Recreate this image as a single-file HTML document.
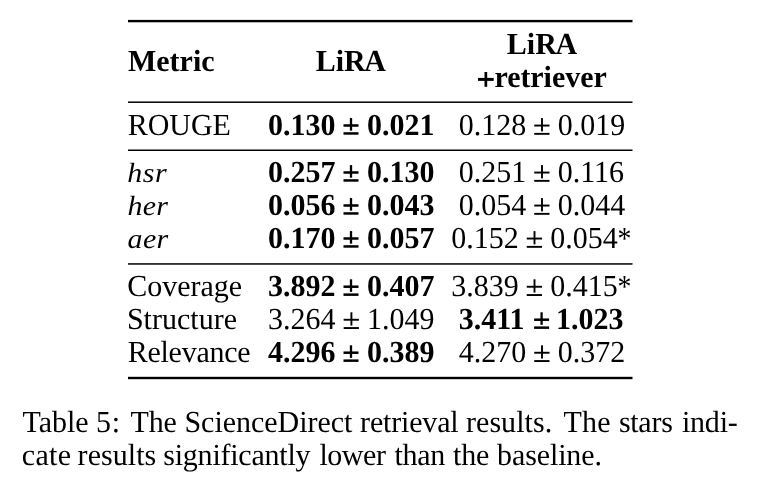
<!DOCTYPE html>
<html><head><meta charset="utf-8"><title>Table 5</title>
<style>
html,body{margin:0;padding:0;background:#fff;}
body{width:784px;height:502px;overflow:hidden;}
#page{position:absolute;left:0;top:0;width:784px;height:502px;background:#fff;overflow:hidden;will-change:transform;text-rendering:geometricPrecision;font-family:"Liberation Serif",serif;color:#000;font-size:30.00px;}
.t{position:absolute;white-space:pre;line-height:40px;height:40px;transform:scaleY(1.0180);transform-origin:0 29.125px;}
.b{font-weight:bold;}
.i{font-style:italic;transform:scaleY(0.925);}
.pm,.pmb{color:transparent;}
.st{display:inline-block;position:relative;top:0.5px;left:-0.3px;transform:scale(0.93,1.05);}
.plus{color:transparent;}
svg{position:absolute;left:0;top:0;}
</style></head><body><div id="page">
<svg width="784" height="502" viewBox="0 0 784 502">
<rect x="128.00" y="19.90" width="504.50" height="2.40" fill="#000"/>
<rect x="128.00" y="101.45" width="504.50" height="1.50" fill="#000"/>
<rect x="128.00" y="149.50" width="504.50" height="1.50" fill="#000"/>
<rect x="128.00" y="263.20" width="504.50" height="1.50" fill="#000"/>
<rect x="128.00" y="376.80" width="504.50" height="2.40" fill="#000"/>
<rect x="478.00" y="77.90" width="15.70" height="3.00" fill="#000"/>
<rect x="484.50" y="72.00" width="2.70" height="14.80" fill="#000"/>
<rect x="343.50" y="124.25" width="15.00" height="2.50" fill="#000"/>
<rect x="349.85" y="118.10" width="2.30" height="12.55" fill="#000"/>
<rect x="343.50" y="132.20" width="15.00" height="2.50" fill="#000"/>
<rect x="534.25" y="124.60" width="15.25" height="1.90" fill="#000"/>
<rect x="541.05" y="118.10" width="1.90" height="13.25" fill="#000"/>
<rect x="534.25" y="132.90" width="15.25" height="1.90" fill="#000"/>
<rect x="343.50" y="171.25" width="15.00" height="2.50" fill="#000"/>
<rect x="349.85" y="165.10" width="2.30" height="12.55" fill="#000"/>
<rect x="343.50" y="179.20" width="15.00" height="2.50" fill="#000"/>
<rect x="534.25" y="171.60" width="15.25" height="1.90" fill="#000"/>
<rect x="541.05" y="165.10" width="1.90" height="13.25" fill="#000"/>
<rect x="534.25" y="179.90" width="15.25" height="1.90" fill="#000"/>
<rect x="343.50" y="204.25" width="15.00" height="2.50" fill="#000"/>
<rect x="349.85" y="198.10" width="2.30" height="12.55" fill="#000"/>
<rect x="343.50" y="212.20" width="15.00" height="2.50" fill="#000"/>
<rect x="534.25" y="204.60" width="15.25" height="1.90" fill="#000"/>
<rect x="541.05" y="198.10" width="1.90" height="13.25" fill="#000"/>
<rect x="534.25" y="212.90" width="15.25" height="1.90" fill="#000"/>
<rect x="343.50" y="237.25" width="15.00" height="2.50" fill="#000"/>
<rect x="349.85" y="231.10" width="2.30" height="12.55" fill="#000"/>
<rect x="343.50" y="245.20" width="15.00" height="2.50" fill="#000"/>
<rect x="526.75" y="237.60" width="15.25" height="1.90" fill="#000"/>
<rect x="533.55" y="231.10" width="1.90" height="13.25" fill="#000"/>
<rect x="526.75" y="245.90" width="15.25" height="1.90" fill="#000"/>
<rect x="343.50" y="285.45" width="15.00" height="2.50" fill="#000"/>
<rect x="349.85" y="279.30" width="2.30" height="12.55" fill="#000"/>
<rect x="343.50" y="293.40" width="15.00" height="2.50" fill="#000"/>
<rect x="526.75" y="285.80" width="15.25" height="1.90" fill="#000"/>
<rect x="533.55" y="279.30" width="1.90" height="13.25" fill="#000"/>
<rect x="526.75" y="294.10" width="15.25" height="1.90" fill="#000"/>
<rect x="343.65" y="318.80" width="15.25" height="1.90" fill="#000"/>
<rect x="350.45" y="312.30" width="1.90" height="13.25" fill="#000"/>
<rect x="343.65" y="327.10" width="15.25" height="1.90" fill="#000"/>
<rect x="534.10" y="318.45" width="15.00" height="2.50" fill="#000"/>
<rect x="540.45" y="312.30" width="2.30" height="12.55" fill="#000"/>
<rect x="534.10" y="326.40" width="15.00" height="2.50" fill="#000"/>
<rect x="343.50" y="351.45" width="15.00" height="2.50" fill="#000"/>
<rect x="349.85" y="345.30" width="2.30" height="12.55" fill="#000"/>
<rect x="343.50" y="359.40" width="15.00" height="2.50" fill="#000"/>
<rect x="534.25" y="351.80" width="15.25" height="1.90" fill="#000"/>
<rect x="541.05" y="345.30" width="1.90" height="13.25" fill="#000"/>
<rect x="534.25" y="360.10" width="15.25" height="1.90" fill="#000"/>
</svg>
<div id="h1" class="t b" style="top:41.875px;left:127.95px;letter-spacing:0.015px;">Metric</div>
<div id="h2" class="t b" style="top:41.875px;left:315.64px;">Li<span style="letter-spacing:-1.4px">R</span>A</div>
<div id="h3a" class="t b" style="top:24.875px;left:506.81px;">Li<span style="letter-spacing:-1.4px">R</span>A</div>
<div id="h3b" class="t b" style="top:57.875px;left:477.35px;letter-spacing:-0.044px;"><span class="plus">+</span>retriever</div>
<div id="r0c1" class="t" style="top:105.875px;left:127.68px;letter-spacing:-0.045px;">ROUGE</div>
<div id="r0c2" class="t b" style="top:105.875px;left:268.10px;">0.130 <span class="pmb">±</span> 0.021</div>
<div id="r0c3" class="t" style="top:105.875px;left:458.70px;">0.128 <span class="pm">±</span> 0.019</div>
<div id="r1c1" class="t i" style="top:152.875px;left:127.29px;letter-spacing:0.553px;">hsr</div>
<div id="r1c2" class="t b" style="top:152.875px;left:268.10px;">0.257 <span class="pmb">±</span> 0.130</div>
<div id="r1c3" class="t" style="top:152.875px;left:458.70px;">0.251 <span class="pm">±</span> 0.116</div>
<div id="r2c1" class="t i" style="top:185.875px;left:127.53px;letter-spacing:0.265px;">her</div>
<div id="r2c2" class="t b" style="top:185.875px;left:268.10px;">0.056 <span class="pmb">±</span> 0.043</div>
<div id="r2c3" class="t" style="top:185.875px;left:458.70px;">0.054 <span class="pm">±</span> 0.044</div>
<div id="r3c1" class="t i" style="top:218.875px;left:127.58px;letter-spacing:0.325px;">aer</div>
<div id="r3c2" class="t b" style="top:218.875px;left:268.10px;">0.170 <span class="pmb">±</span> 0.057</div>
<div id="r3c3" class="t" style="top:218.875px;left:451.20px;">0.152 <span class="pm">±</span> 0.054<span class="st">*</span></div>
<div id="r4c1" class="t" style="top:266.875px;left:127.36px;letter-spacing:-0.023px;">Coverage</div>
<div id="r4c2" class="t b" style="top:266.875px;left:268.10px;">3.892 <span class="pmb">±</span> 0.407</div>
<div id="r4c3" class="t" style="top:266.875px;left:451.20px;">3.839 <span class="pm">±</span> 0.415<span class="st">*</span></div>
<div id="r5c1" class="t" style="top:299.875px;left:126.89px;letter-spacing:0.031px;">Structure</div>
<div id="r5c2" class="t" style="top:299.875px;left:268.10px;">3.264 <span class="pm">±</span> 1.049</div>
<div id="r5c3" class="t b" style="top:299.875px;left:458.70px;">3.411 <span class="pmb">±</span> 1.023</div>
<div id="r6c1" class="t" style="top:332.875px;left:127.68px;letter-spacing:-0.251px;">Relevance</div>
<div id="r6c2" class="t b" style="top:332.875px;left:268.10px;">4.296 <span class="pmb">±</span> 0.389</div>
<div id="r6c3" class="t" style="top:332.875px;left:458.70px;">4.270 <span class="pm">±</span> 0.372</div>
<div id="c1w0" class="t" style="top:402.875px;left:22.44px;letter-spacing:0.011px;">Table</div>
<div id="c1w1" class="t" style="top:402.875px;left:95.88px;letter-spacing:0.978px;">5:</div>
<div id="c1w2" class="t" style="top:402.875px;left:130.44px;letter-spacing:-0.080px;">The</div>
<div id="c1w3" class="t" style="top:402.875px;left:184.46px;letter-spacing:-0.029px;">ScienceDirect</div>
<div id="c1w4" class="t" style="top:402.875px;left:360.10px;letter-spacing:-0.178px;">retrieval</div>
<div id="c1w5" class="t" style="top:402.875px;left:465.98px;letter-spacing:0.058px;">results.</div>
<div id="c1w6" class="t" style="top:402.875px;left:563.60px;letter-spacing:0.111px;">The</div>
<div id="c1w7" class="t" style="top:402.875px;left:618.89px;letter-spacing:-0.263px;">stars</div>
<div id="c1w8" class="t" style="top:402.875px;left:681.89px;letter-spacing:-0.185px;">indi-</div>
<div id="c2w0" class="t" style="top:435.875px;left:21.82px;letter-spacing:0.291px;">cate</div>
<div id="c2w1" class="t" style="top:435.875px;left:77.60px;letter-spacing:0.045px;">results</div>
<div id="c2w2" class="t" style="top:435.875px;left:163.28px;letter-spacing:-0.225px;">significantly</div>
<div id="c2w3" class="t" style="top:435.875px;left:319.38px;letter-spacing:-0.423px;">lower</div>
<div id="c2w4" class="t" style="top:435.875px;left:394.48px;letter-spacing:-0.275px;">than</div>
<div id="c2w5" class="t" style="top:435.875px;left:452.92px;letter-spacing:-0.083px;">the</div>
<div id="c2w6" class="t" style="top:435.875px;left:497.06px;letter-spacing:-0.112px;">baseline.</div>
</div></body></html>
